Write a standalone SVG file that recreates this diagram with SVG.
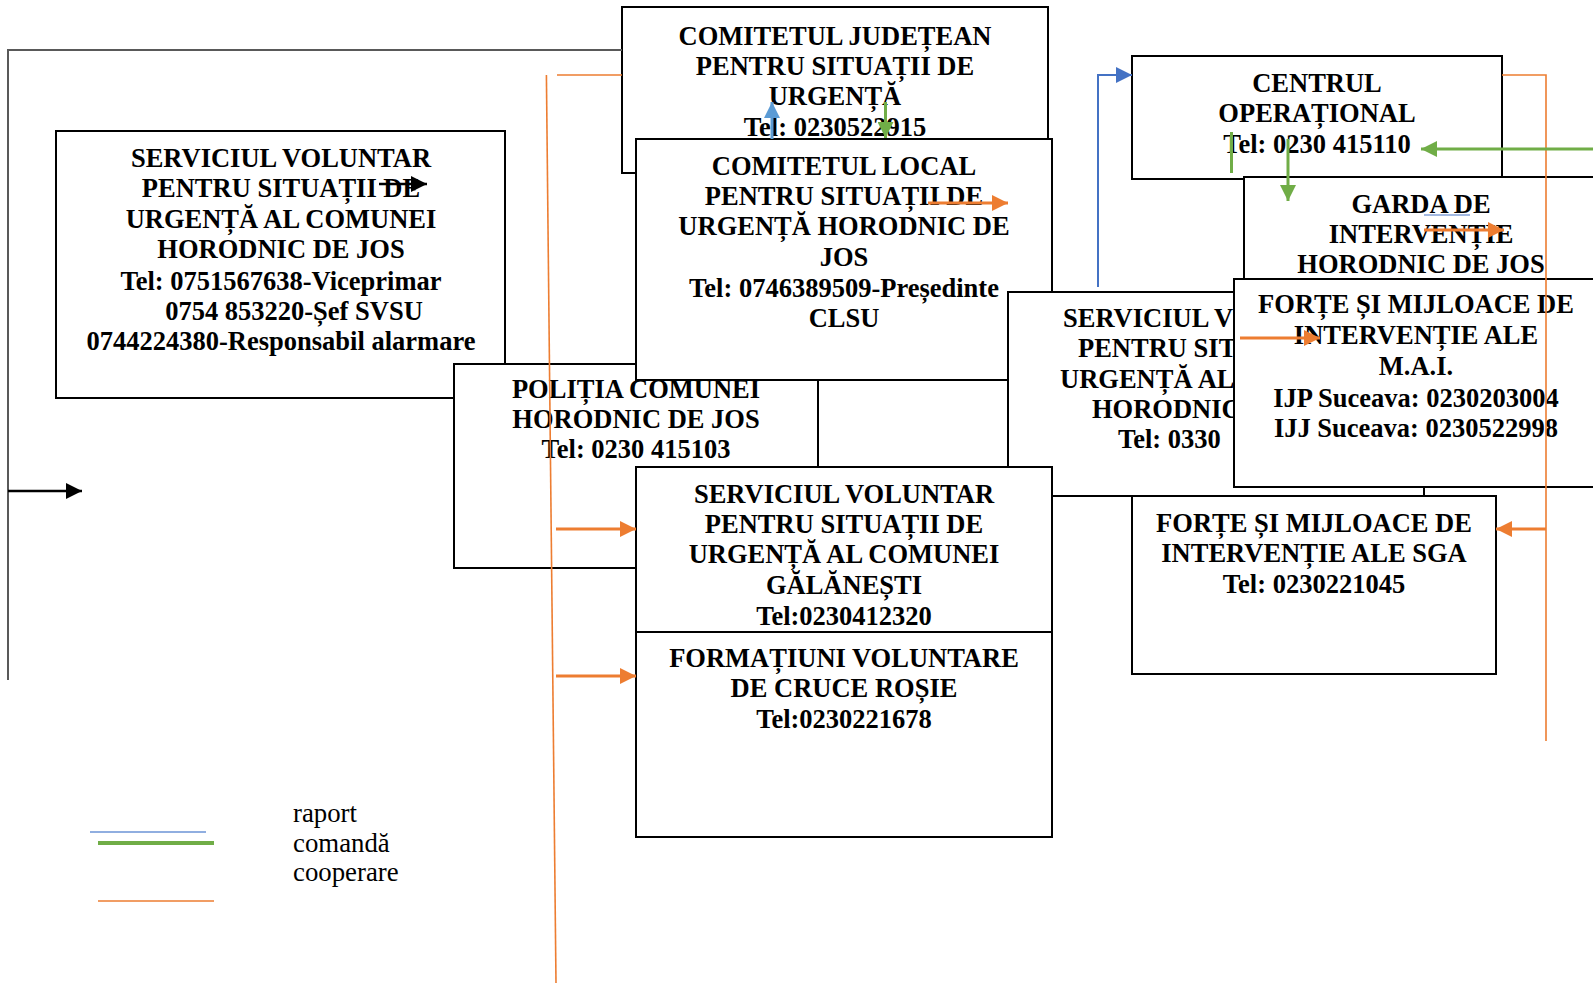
<svg xmlns="http://www.w3.org/2000/svg" width="1593" height="983" viewBox="0 0 1593 983">
<style>
.box{fill:#fff;stroke:#000;stroke-width:2}
.t{font-family:"Liberation Serif","Times New Roman",serif;font-weight:bold;font-size:26.5px;text-anchor:middle;fill:#000}
.ts{font-family:"Liberation Serif","Times New Roman",serif;font-weight:bold;font-size:26.5px;fill:#000}
.leg{font-family:"Liberation Serif","Times New Roman",serif;font-size:26.8px;fill:#000}
.or{stroke:#ed7d31;stroke-width:1.6;fill:none}
.ora{stroke:#ed7d31;stroke-width:3;fill:none;marker-end:url(#mo)}
.bl{stroke:#4472c4;stroke-width:2;fill:none}
.gr{stroke:#70ad47;stroke-width:3;fill:none}
</style>
<defs>
<marker id="mo" markerUnits="userSpaceOnUse" markerWidth="16" markerHeight="16" refX="16" refY="8" orient="auto"><path d="M0,0 L16,8 L0,16 z" fill="#ed7d31"/></marker>
<marker id="mk" markerUnits="userSpaceOnUse" markerWidth="16" markerHeight="16" refX="16" refY="8" orient="auto"><path d="M0,0 L16,8 L0,16 z" fill="#000"/></marker>
<marker id="mb" markerUnits="userSpaceOnUse" markerWidth="16" markerHeight="16" refX="16" refY="8" orient="auto"><path d="M0,0 L16,8 L0,16 z" fill="#4472c4"/></marker>
<marker id="mb2" markerUnits="userSpaceOnUse" markerWidth="16" markerHeight="16" refX="16" refY="8" orient="auto"><path d="M0,0 L16,8 L0,16 z" fill="#5b9bd5"/></marker>
<marker id="mg" markerUnits="userSpaceOnUse" markerWidth="16" markerHeight="16" refX="16" refY="8" orient="auto"><path d="M0,0 L16,8 L0,16 z" fill="#70ad47"/></marker>
</defs>
<rect width="1593" height="983" fill="#fff"/>

<g id="svsu-horodnic">
<rect class="box" x="56" y="131" width="449" height="267"/>
<text class="t" x="281" y="167">SERVICIUL VOLUNTAR</text>
<text class="t" x="281" y="197">PENTRU SITUAȚII DE</text>
<text class="t" x="281" y="228">URGENȚĂ AL COMUNEI</text>
<text class="t" x="281" y="258">HORODNIC DE JOS</text>
<text class="t" x="281" y="290">Tel: 0751567638-Viceprimar</text>
<text class="t" x="294" y="320">0754 853220-Șef SVSU</text>
<text class="t" x="281" y="350">0744224380-Responsabil alarmare</text>
</g>

<g id="politia">
<rect class="box" x="454" y="364" width="364" height="204"/>
<text class="t" x="636" y="398">POLIȚIA COMUNEI</text>
<text class="t" x="636" y="428">HORODNIC DE JOS</text>
<text class="t" x="636" y="458">Tel: 0230 415103</text>
</g>

<g id="cjsu">
<rect class="box" x="622" y="7" width="426" height="166"/>
<text class="t" x="835" y="45">COMITETUL JUDEȚEAN</text>
<text class="t" x="835" y="75">PENTRU SITUAȚII DE</text>
<text class="t" x="835" y="105">URGENȚĂ</text>
<text class="t" x="835" y="136">Tel: 0230522915</text>
</g>

<g id="clsu">
<rect class="box" x="636" y="139" width="416" height="241"/>
<text class="t" x="844" y="175">COMITETUL LOCAL</text>
<text class="t" x="844" y="205">PENTRU SITUAȚII DE</text>
<text class="t" x="844" y="235">URGENȚĂ HORODNIC DE</text>
<text class="t" x="844" y="266">JOS</text>
<text class="t" x="844" y="297">Tel: 0746389509-Președinte</text>
<text class="t" x="844" y="327">CLSU</text>
</g>

<g id="svsu-other">
<rect class="box" x="1008" y="292" width="416" height="204"/>
<text class="ts" x="1063" y="327">SERVICIUL V</text>
<text class="ts" x="1078" y="357">PENTRU SIT</text>
<text class="ts" x="1060" y="388">URGENȚĂ AL</text>
<text class="ts" x="1092" y="418">HORODNIC</text>
<text class="ts" x="1118" y="448">Tel: 0330</text>
</g>

<g id="svsu-galanesti">
<rect class="box" x="636" y="467" width="416" height="165"/>
<text class="t" x="844" y="503">SERVICIUL VOLUNTAR</text>
<text class="t" x="844" y="533">PENTRU SITUAȚII DE</text>
<text class="t" x="844" y="563">URGENȚĂ AL COMUNEI</text>
<text class="t" x="844" y="594">GĂLĂNEȘTI</text>
<text class="t" x="844" y="625">Tel:0230412320</text>
</g>

<g id="cruce-rosie">
<rect class="box" x="636" y="632" width="416" height="205"/>
<text class="t" x="844" y="667">FORMAȚIUNI VOLUNTARE</text>
<text class="t" x="844" y="697">DE CRUCE ROȘIE</text>
<text class="t" x="844" y="728">Tel:0230221678</text>
</g>

<g id="centrul-operational">
<rect class="box" x="1132" y="56" width="370" height="123"/>
<text class="t" x="1317" y="92">CENTRUL</text>
<text class="t" x="1317" y="122">OPERAȚIONAL</text>
<text class="t" x="1317" y="153">Tel: 0230 415110</text>
</g>

<g id="garda">
<rect class="box" x="1244" y="177" width="400" height="140"/>
<text class="t" x="1421" y="213">GARDA DE</text>
<text class="t" x="1421" y="243">INTERVENȚIE</text>
<text class="t" x="1421" y="273">HORODNIC DE JOS</text>
<line x1="1424" y1="215" x2="1470" y2="215" stroke="#4472c4" stroke-width="1"/>
</g>

<g id="mai">
<rect class="box" x="1234" y="279" width="400" height="208"/>
<text class="t" x="1416" y="313">FORȚE ȘI MIJLOACE DE</text>
<text class="t" x="1416" y="344">INTERVENȚIE ALE</text>
<text class="t" x="1416" y="375">M.A.I.</text>
<text class="t" x="1416" y="407">IJP Suceava: 0230203004</text>
<text class="t" x="1416" y="437">IJJ Suceava: 0230522998</text>
</g>

<g id="sga">
<rect class="box" x="1132" y="496" width="364" height="178"/>
<text class="t" x="1314" y="532">FORȚE ȘI MIJLOACE DE</text>
<text class="t" x="1314" y="562">INTERVENȚIE ALE SGA</text>
<text class="t" x="1314" y="593">Tel: 0230221045</text>
</g>

<g id="connectors">
<path d="M622,50 H8 V680" stroke="#595959" stroke-width="2" fill="none"/>
<line x1="8" y1="491" x2="82" y2="491" stroke="#000" stroke-width="2.5" marker-end="url(#mk)"/>
<line x1="379" y1="184" x2="427" y2="184" stroke="#000" stroke-width="2.5" marker-end="url(#mk)"/>

<line class="or" x1="557" y1="75" x2="622" y2="75"/>
<line class="or" x1="546.4" y1="75" x2="556" y2="983"/>
<line class="ora" x1="556" y1="529" x2="636" y2="529"/>
<line class="ora" x1="556" y1="676" x2="636" y2="676"/>
<line class="ora" x1="928" y1="203" x2="1008" y2="203"/>
<path class="or" d="M1502,75 H1546 V741"/>
<line class="ora" x1="1546" y1="529" x2="1496" y2="529"/>
<line class="ora" x1="1424" y1="230" x2="1504" y2="230"/>
<line class="ora" x1="1240" y1="338" x2="1320" y2="338"/>

<line x1="772" y1="139" x2="772" y2="102" stroke="#5b9bd5" stroke-width="3" marker-end="url(#mb2)"/>
<path class="bl" d="M1098,287 V75 H1132" marker-end="url(#mb)"/>

<line class="gr" x1="885.5" y1="102" x2="885.5" y2="138" marker-end="url(#mg)"/>
<line class="gr" x1="1231.5" y1="132" x2="1231.5" y2="173"/>
<line class="gr" x1="1288" y1="139" x2="1288" y2="201" marker-end="url(#mg)"/>
<line class="gr" x1="1593" y1="149" x2="1421" y2="149" marker-end="url(#mg)"/>
</g>

<g id="legend">
<line x1="90" y1="832" x2="206" y2="832" stroke="#6b93d6" stroke-width="1.5"/>
<line x1="98" y1="843" x2="214" y2="843" stroke="#70ad47" stroke-width="4"/>
<line x1="98" y1="901" x2="214" y2="901" stroke="#ed7d31" stroke-width="1.5"/>
<text class="leg" x="293" y="822">raport</text>
<text class="leg" x="293" y="852">comandă</text>
<text class="leg" x="293" y="881">cooperare</text>
</g>
</svg>
